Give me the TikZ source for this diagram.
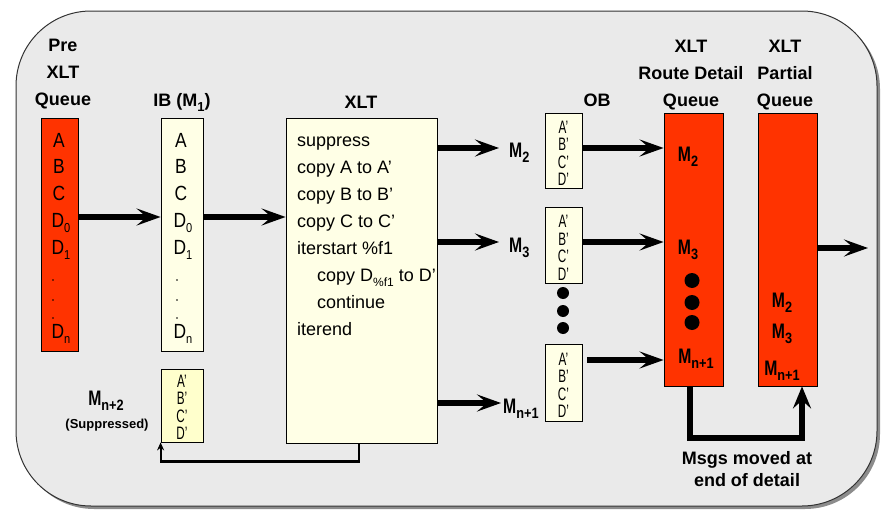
\documentclass[tikz,border=0pt]{standalone}
\usepackage{fontspec}
\setmainfont{Liberation Sans}
\newfontfamily\narrowfont[FakeStretch=0.65]{Liberation Sans}
\newfontfamily\condA[FakeStretch=0.85]{Liberation Sans}
\usetikzlibrary{arrows.meta,calc}
\definecolor{bgc}{HTML}{EAEAEA}
\definecolor{qred}{HTML}{FF3300}
\definecolor{cream}{HTML}{FFFFE6}
\definecolor{ylw}{HTML}{FFFFCC}
\newcommand\dn[1]{\raisebox{-5pt}{\fontsize{13}{13}\selectfont #1}}
\newcommand\mdn[1]{\raisebox{-5pt}{\scalebox{0.85}[1]{\fontsize{15}{15}\selectfont #1}}}
\newcommand\MM{\scalebox{0.75}[1]{M}}
\begin{document}
\begin{tikzpicture}[x=1pt,y=-1pt,
  lbl/.style={font=\bfseries\fontsize{18}{27}\selectfont, align=center, inner sep=0},
  qbox/.style={draw=black, line width=0.8, fill=qred, inner sep=0},
  cbox/.style={draw=black, line width=0.8, fill=cream, inner sep=0},
  txt/.style={font=\condA\fontsize{20.5}{22}\selectfont, inner sep=0, anchor=base},
  ltxt/.style={font=\fontsize{18}{22}\selectfont, inner sep=0, anchor=base west},
  obtxt/.style={font=\narrowfont\fontsize{18}{17.5}\selectfont, align=center, inner sep=0},
  mlbl/.style={font=\bfseries\fontsize{21}{22}\selectfont, inner sep=0},
  bigarrow/.style={line width=5.5, -{Stealth[length=24pt,width=17pt,inset=10pt]}},
  thinarrow/.style={line width=2.2, -{Stealth[length=8pt,width=7pt]}},
]
\useasboundingbox (0,0) rectangle (887,514);
% frame
\fill[black!45, rounded corners=75] (19,14) rectangle (880,509);
\draw[fill=bgc, draw=black!80, line width=1, rounded corners=75] (16,11) rectangle (877,506);

% headings
\node[lbl] (hpre) at (63,74.5) {Pre\\XLT\\Queue};
\node[lbl] (hib) at (182,102) {IB (M\dn{1})};
\node[lbl] (hxlt) at (361,102) {XLT};
\node[lbl] (hob) at (597,100) {OB};
\node[lbl] (hrd) at (691,75) {XLT\\Route Detail\\Queue};
\node[lbl] (hpq) at (785,75) {XLT\\Partial\\Queue};

% boxes
\node[qbox, minimum width=37, minimum height=233] (pre) at (59.5,234.5) {};
\node[cbox, minimum width=42, minimum height=233] (ib) at (182,234.5) {};
\node[cbox, fill=ylw, minimum width=42, minimum height=73] (mn2) at (182,405.5) {};
\node[cbox, minimum width=151, minimum height=325] (xlt) at (361.5,280.5) {};
\node[cbox, minimum width=37, minimum height=75] (ob1) at (563.5,150.5) {};
\node[cbox, minimum width=37, minimum height=76] (ob2) at (563.5,245) {};
\node[cbox, minimum width=37, minimum height=77] (ob3) at (563.5,382.5) {};
\node[qbox, minimum width=59, minimum height=273] (rd) at (693.5,249.5) {};
\node[qbox, minimum width=59, minimum height=273] (pq) at (787.5,249.5) {};

% pre queue contents
\node[txt] (pa) at (59,147) {A};
\node[txt] (pb) at (59,173.5) {B};
\node[txt] (pc) at (59,200.5) {C};
\node[txt] (pd0) at (61,227) {D\dn{0}};
\node[txt] (pd1) at (61,254.5) {D\dn{1}};
\node[txt] (pdn) at (61,338.5) {D\dn{n}};
\foreach \yy in {280,300,318} \fill (53,\yy) circle (0.8);

% IB contents
\node[txt] (ia) at (181,147) {A};
\node[txt] (ibb) at (181,173.5) {B};
\node[txt] (ic) at (181,200.5) {C};
\node[txt] (id0) at (183,227) {D\dn{0}};
\node[txt] (id1) at (183,254.5) {D\dn{1}};
\node[txt] (idn) at (183,338.5) {D\dn{n}};
\foreach \yy in {280,300,318} \fill (177,\yy) circle (0.8);

% Mn+2
\node[obtxt] (mn2t) at ($(mn2)+(0,2)$) {A’\\B’\\C’\\D’};
\node[mlbl, anchor=base] (mn2l) at (106,405) {\MM\mdn{n+2}};
\node[font=\bfseries\fontsize{13}{15}\selectfont, inner sep=0] (supp) at (107,425) {(Suppressed)};

% XLT code
\node[ltxt] (x1) at (297,146) {suppress};
\node[ltxt] (x2) at (297,173) {copy A to A’};
\node[ltxt] (x3) at (297,200) {copy B to B’};
\node[ltxt] (x4) at (297,227) {copy C to C’};
\node[ltxt] (x5) at (297,254) {iterstart \%f1};
\node[ltxt] (x6) at (317,281) {copy D\dn{\fontsize{12}{12}\selectfont\%f1} to D’};
\node[ltxt] (x7) at (317,308) {continue};
\node[ltxt] (x8) at (297,335) {iterend};

% OB contents
\node[obtxt] (ob1t) at ($(ob1)+(0,3)$) {A’\\B’\\C’\\D’};
\node[obtxt] (ob2t) at ($(ob2)+(0,3)$) {A’\\B’\\C’\\D’};
\node[obtxt] (ob3t) at ($(ob3)+(0,3)$) {A’\\B’\\C’\\D’};
\foreach \yy in {293,311,328} \fill (563,\yy) circle (6);

% M labels
\node[mlbl, anchor=base west] (m2) at (509,157) {\MM\mdn{2}};
\node[mlbl, anchor=base west] (m3) at (509,252) {\MM\mdn{3}};
\node[mlbl, anchor=base west] (mn1) at (503,413) {\MM\mdn{n+1}};

% route detail contents
\node[mlbl, anchor=base] (rm2) at (688,161.5) {\MM\mdn{2}};
\node[mlbl, anchor=base] (rm3) at (688,254) {\MM\mdn{3}};
\foreach \yy in {280.5,302.5,322.5} \fill (692,\yy) circle (7.5);
\node[mlbl, anchor=base] (rmn) at (696,363) {\MM\mdn{n+1}};

% partial contents
\node[mlbl, anchor=base] (qm2) at (782,307) {\MM\mdn{2}};
\node[mlbl, anchor=base] (qm3) at (782,338) {\MM\mdn{3}};
\node[mlbl, anchor=base] (qmn) at (782,375) {\MM\mdn{n+1}};

% bottom text
\node[font=\bfseries\fontsize{18}{22}\selectfont, align=center, inner sep=0] (msgs) at (747,469) {Msgs moved at\\end of detail};

% arrows
\draw[bigarrow] ([yshift=17.5pt]pre.east) -- ([yshift=17.5pt]pre.east -| ib.west);
\draw[bigarrow] ([yshift=17.5pt]ib.east) -- ([yshift=17.5pt]ib.east -| xlt.west);
\draw[bigarrow, shorten >=10pt] ([yshift=132.5pt]xlt.east) -- ([yshift=132.5pt]xlt.east -| m2.west);
\draw[bigarrow, shorten >=10pt] ([yshift=38.5pt]xlt.east) -- ([yshift=38.5pt]xlt.east -| m3.west);
\draw[bigarrow, shorten >=2pt] ([yshift=-122.5pt]xlt.east) -- ([yshift=-122.5pt]xlt.east -| mn1.west);
\draw[bigarrow] ([yshift=2.5pt]ob1.east) -- ([yshift=2.5pt]ob1.east -| rd.west);
\draw[bigarrow] ([yshift=3pt]ob2.east) -- ([yshift=3pt]ob2.east -| rd.west);
\draw[bigarrow] ([xshift=5pt,yshift=22.5pt]ob3.east) -- ([yshift=22.5pt]ob3.east -| rd.west);
\coordinate (out) at (868,248);
\draw[bigarrow] (pq.east |- out) -- (out);
\draw[line width=6, -{Stealth[length=22pt,width=18pt,inset=8pt]}] ([xshift=-3.5pt]rd.south) -- ++(0,52) -| ([xshift=14.5pt]pq.south);
\draw[thinarrow] ([xshift=-2.5pt]xlt.south) -- ++(0,18) -| (mn2.south west);
\end{tikzpicture}
\end{document}
